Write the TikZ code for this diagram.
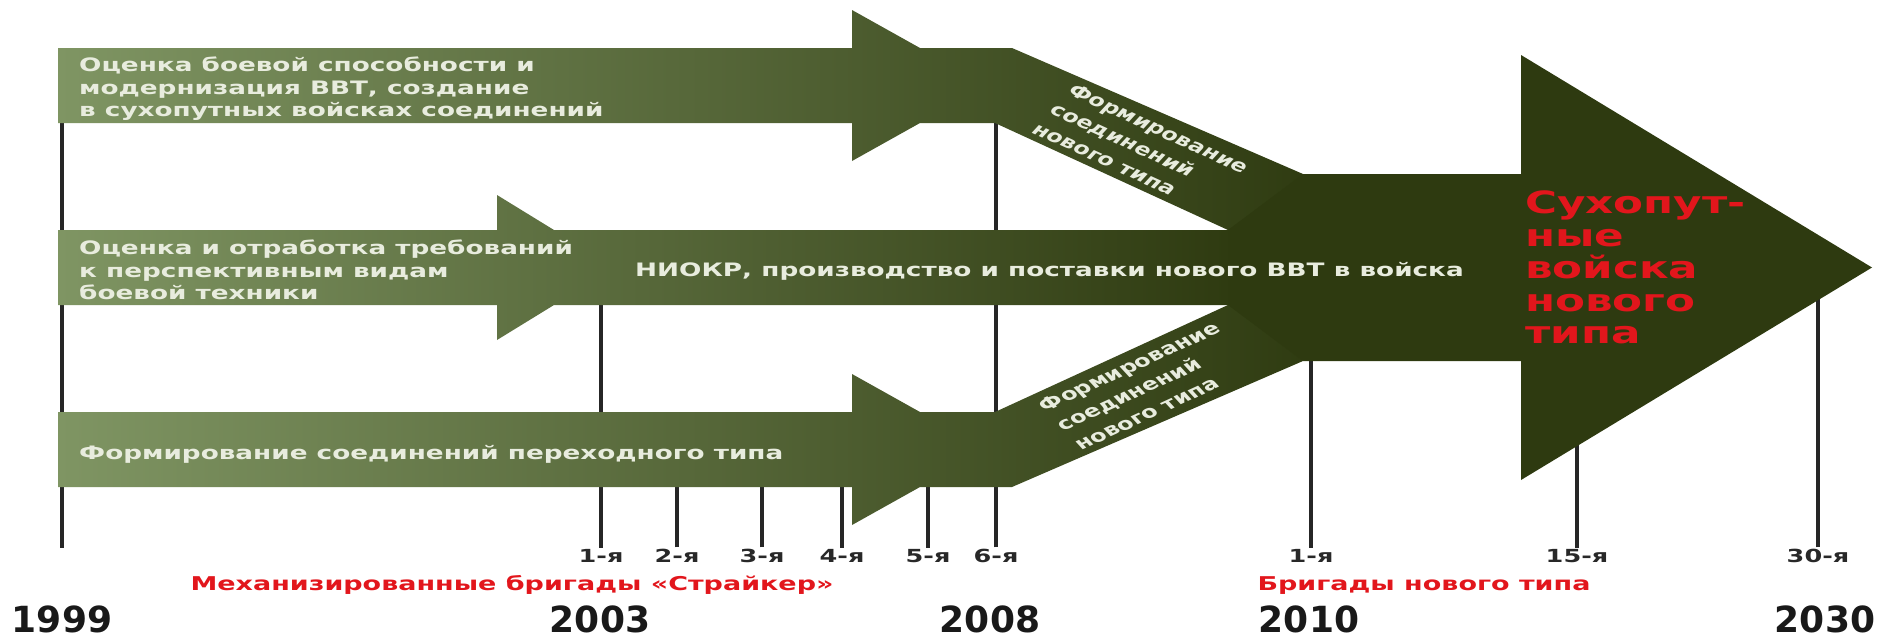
\documentclass[tikz,border=0pt]{standalone}
\usepackage{fontspec}
\newfontfamily\lblfont[FakeStretch=1.42]{DejaVu Sans Bold}
\newfontfamily\rotfont{DejaVu Sans Bold}
\newfontfamily\yearfont{DejaVu Sans Bold}
\definecolor{bandlight}{RGB}{127,149,99}
\definecolor{bandmid}{RGB}{94,116,64}
\definecolor{banddark}{RGB}{46,58,16}
\definecolor{bandtext}{RGB}{232,236,222}
\definecolor{redtext}{RGB}{226,22,28}
\definecolor{ticktext}{RGB}{40,40,40}
\tikzset{
  band/.style={left color=bandlight, middle color=bandmid, right color=banddark},
  bigarrow/.style={fill=banddark},
  tick/.style={draw=black!85, line width=4pt},
  bandtxt/.style={text=bandtext, font=\lblfont\fontsize{18.5}{22.5}\selectfont, align=left, inner sep=0pt},
  rottxt/.style={text=bandtext, font=\rotfont\fontsize{17}{23}\selectfont, align=left, inner sep=0pt, transform shape},
  ticklbl/.style={text=ticktext, font=\lblfont\fontsize{18}{20}\selectfont, anchor=base, inner sep=1pt},
  redlbl/.style={text=redtext, font=\lblfont\fontsize{19}{22}\selectfont, anchor=base, inner sep=1pt},
  bigred/.style={text=redtext, font=\lblfont\fontsize{30.7}{32.5}\selectfont, align=left, anchor=north west, inner sep=0pt},
  yearlbl/.style={text=black!90, font=\yearfont\fontsize{36}{40}\selectfont, anchor=base, inner sep=0pt}
}
\begin{document}
\begin{tikzpicture}[x=1pt,y=-1pt]
\useasboundingbox (0,0) rectangle (1879,635);

\node[yearlbl] (y1999) at (62,632) {1999};
\node[yearlbl] (y2003) at (600,632) {2003};
\node[yearlbl] (y2008) at (990,632) {2008};
\node[yearlbl] (y2010) at (1309,632) {2010};
\node[yearlbl] (y2030) at (1825,632) {2030};

\node[ticklbl] (s1) at (601,562) {1-я};
\node[ticklbl] (s2) at (677,562) {2-я};
\node[ticklbl] (s3) at (762,562) {3-я};
\node[ticklbl] (s4) at (842,562) {4-я};
\node[ticklbl] (s5) at (928,562) {5-я};
\node[ticklbl] (s6) at (996,562) {6-я};
\node[ticklbl] (n1) at (1311,562) {1-я};
\node[ticklbl] (n15) at (1577,562) {15-я};
\node[ticklbl] (n30) at (1818,562) {30-я};

\node[redlbl] (stryker) at (512,590) {Механизированные бригады «Страйкер»};
\node[redlbl] (newbrig) at (1424,590) {Бригады нового типа};

\coordinate (top1999) at (62,100);
\coordinate (end1999) at (62,548);
\coordinate (lvlhigh) at (0,110);
\coordinate (lvlmid) at (0,290);
\coordinate (lvllow) at (0,470);
\coordinate (lvlbody) at (0,340);
\coordinate (lvlhead) at (0,430);
\path[tick] (top1999) -- (end1999);
\path[tick] (s1.north) -- (s1.north |- lvlmid);
\path[tick] (s2.north) -- (s2.north |- lvllow);
\path[tick] (s3.north) -- (s3.north |- lvllow);
\path[tick] (s4.north) -- (s4.north |- lvllow);
\path[tick] (s5.north) -- (s5.north |- lvllow);
\path[tick] (s6.north) -- (s6.north |- lvlhigh);
\path[tick] (n1.north) -- (n1.north |- lvlbody);
\path[tick] (n15.north) -- (n15.north |- lvlhead);
\path[tick] (n30.north) -- (n30.north |- lvlmid);

\path[band] (58,48) -- (852,48) -- (852,10) -- (920,48) -- (1012,48) -- (1303,174) -- (1330,230) -- (1228,230) -- (995,123) -- (920,123) -- (852,161) -- (852,123) -- (58,123) -- cycle;
\path[band] (58,230) -- (497,230) -- (497,195) -- (554,230) -- (1240,230) -- (1240,305) -- (554,305) -- (497,340) -- (497,305) -- (58,305) -- cycle;
\path[band] (58,487) -- (852,487) -- (852,525) -- (920,487) -- (1012,487) -- (1303,361) -- (1330,305) -- (1228,305) -- (995,412) -- (920,412) -- (852,374) -- (852,412) -- (58,412) -- cycle;
\path[bigarrow] (1228,230) -- (1303,174) -- (1521,174) -- (1521,55) -- (1872,267.5) -- (1521,480) -- (1521,361) -- (1303,361) -- (1228,305) -- cycle;

\node[bandtxt, anchor=west] (ocenka) at (79,89) {Оценка боевой способности и\\модернизация ВВТ, создание\\в сухопутных войсках соединений};
\node[bandtxt, anchor=west] (otrab) at (79,270) {Оценка и отработка требований\\к перспективным видам\\боевой техники};
\node[bandtxt, anchor=base west] (niokr) at (635,276) {НИОКР, производство и поставки нового ВВТ в войска};
\node[bandtxt, anchor=base west] (perehod) at (79,459) {Формирование соединений переходного типа};
\node[bigred] (sv) at (1525,191) {Сухопут-\\ные\\войска\\нового\\типа};

\begin{scope}[shift={(1141,148)}, xscale=1.42]
\node[rottxt, rotate=-33] (formup) at (0,0) {Формирование\\соединений\\нового типа};
\end{scope}
\begin{scope}[shift={(1147,386)}, xscale=1.42]
\node[rottxt, rotate=33] (formlow) at (0,0) {Формирование\\соединений\\нового типа};
\end{scope}
\end{tikzpicture}
\end{document}
